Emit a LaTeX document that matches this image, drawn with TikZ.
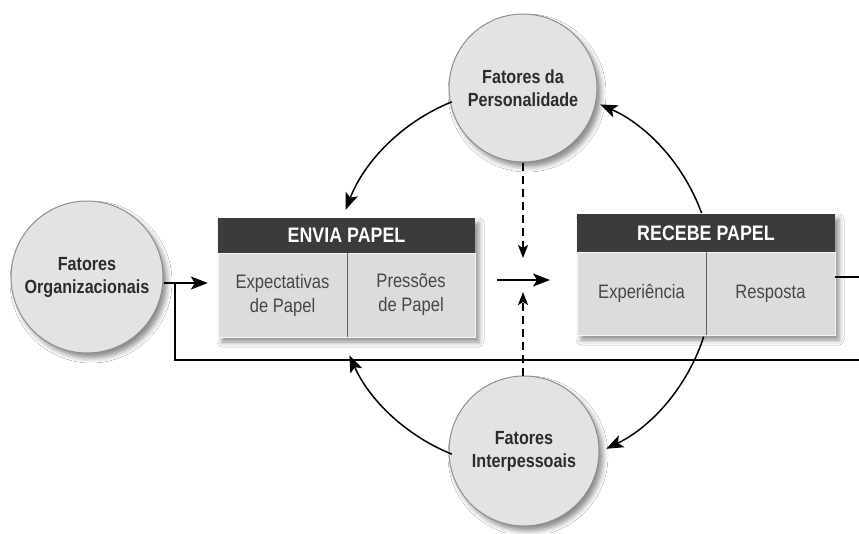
\documentclass[tikz,border=0pt]{standalone}
\usepackage{fontspec}
\setmainfont{Liberation Sans}[FakeStretch=0.85]
\usetikzlibrary{arrows.meta,shadows.blur,calc}

\definecolor{circfill}{HTML}{E3E3E3}
\definecolor{circedge}{HTML}{8E8E8E}
\definecolor{headfill}{HTML}{3B3B3B}
\definecolor{cellfill}{HTML}{DCDCDC}
\definecolor{inkgray}{HTML}{2C2C2C}
\definecolor{bodygray}{HTML}{474747}

\tikzset{
  softshadow/.style={blur shadow={shadow xshift=4pt, shadow yshift=-5pt,
      shadow blur radius=5pt, shadow opacity=45}},
  factor/.style={circle, fill=circfill, draw=circedge, line width=1pt,
      minimum size=#1, inner sep=0pt, align=center, text=inkgray,
      font=\bfseries\fontsize{19}{23}\selectfont, softshadow},
  boxbase/.style={rectangle, fill=cellfill, inner sep=0pt, softshadow},
  header/.style={rectangle, fill=headfill, text=white, inner sep=0pt,
      font=\bfseries\fontsize{21}{24}\selectfont},
  cell/.style={rectangle, fill=cellfill, draw=gray!8, line width=0.8pt,
      text=bodygray, align=center, inner sep=0pt,
      font=\fontsize{19.5}{24}\selectfont},
  divider/.style={draw=gray!75!black, line width=1.6pt},
  link/.style={draw=black, line width=1.5pt},
  arr/.style={link, -{Stealth[length=17pt,width=13pt,inset=4pt]}},
  dasharr/.style={link, dash pattern=on 8pt off 5pt,
      -{Stealth[length=13pt,width=10pt,inset=3pt]}},
}

\begin{document}
\begin{tikzpicture}[x=1pt,y=1pt]
  \useasboundingbox[fill=white] (0,0) rectangle (859,-533);

  % the three factor circles
  \node[factor=152pt] (org)    at (87,-277)  {Fatores\\Organizacionais};
  \node[factor=148pt] (pers)   at (523,-88)  {Fatores da\\Personalidade};
  \node[factor=150pt] (interp) at (524,-451) {Fatores\\Interpessoais};

  % sender box
  \node[boxbase, minimum width=257pt, minimum height=119pt] (envia) at (346.5,-277.5) {};
  \node[header, minimum width=257pt, minimum height=35pt] (enviahead) at (346.5,-235.5) {ENVIA PAPEL};
  \node[cell, minimum width=129pt, minimum height=84pt] (expect) at (282.5,-295) {Expectativas\\de Papel};
  \node[cell, minimum width=128pt, minimum height=84pt] (press) at (411,-295) {Pressões\\de Papel};
  \draw[divider] (expect.north east) -- (expect.south east);

  % receiver box
  \node[boxbase, minimum width=258pt, minimum height=121pt] (recebe) at (706,-274.5) {};
  \node[header, minimum width=258pt, minimum height=38pt] (recebehead) at (706,-233) {RECEBE PAPEL};
  \node[cell, minimum width=129pt, minimum height=83pt] (exper) at (641.5,-293.5) {Experiência};
  \node[cell, minimum width=129pt, minimum height=83pt] (resp) at (770.5,-293.5) {Resposta};
  \draw[divider] (exper.north east) -- (exper.south east);

  % ring of influences around the centre
  \coordinate (C) at (523,-278);
  \coordinate (a1) at ($(C)+(112:190)$);
  \coordinate (a2) at ($(C)+(-112:190)$);
  \coordinate (a3) at ($(C)+(20:190)$);
  \coordinate (a4) at ($(C)+(-18:190)$);
  \draw[arr] (a1) arc[start angle=112, end angle=159, radius=190];
  \draw[arr] (a2) arc[start angle=-112, end angle=-156, radius=190];
  \draw[arr] (a3) arc[start angle=20, end angle=66, radius=190];
  \draw[arr] (a4) arc[start angle=-18, end angle=-64, radius=190];

  % central transmission arrow and the two dashed influences
  \coordinate (mid) at (523,-280);
  \draw[arr] ($(mid)+(-26,0)$) -- ($(mid)+(27,0)$);
  \draw[dasharr] (pers.south -| mid) -- ($(mid)+(0,22)$);
  \draw[dasharr] (interp.north -| mid) -- ($(mid)+(0,-12)$);

  % organisational input and feedback loop
  \coordinate (orgout) at ($(org.east)+(0,-6)$);
  \coordinate (envin) at ($(enviahead.west |- orgout)+(-10,0)$);
  \draw[arr] (orgout) -- (envin);
  \coordinate (fb) at (175,-283);
  \coordinate (fbturn) at (175,-360);
  \coordinate (fbend) at (859,-360);
  \draw[link] (fb) -- (fbturn) -- (fbend);
  \coordinate (recout) at (recebe.east |- 0,-277);
  \coordinate (rightedge) at (859,-277);
  \draw[link] (recout) -- (rightedge);
\end{tikzpicture}
\end{document}
